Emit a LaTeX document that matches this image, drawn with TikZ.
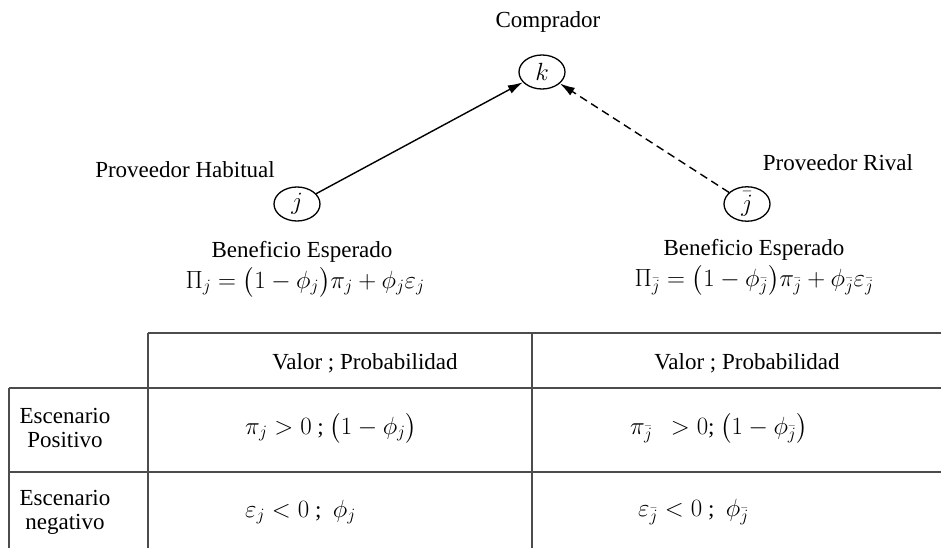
\documentclass[tikz,border=0pt]{standalone}
\usepackage{amsmath}
\usepackage{fontspec}
\setmainfont{Liberation Serif}
\usetikzlibrary{arrows.meta, positioning, shapes.geometric}

\begin{document}
\begin{tikzpicture}[x=1pt, y=-1pt, font=\fontsize{23}{24}\selectfont,
	agente/.style={draw, ellipse, line width=1.3pt, minimum width=46pt, minimum height=34pt, inner sep=0pt},
	flecha/.style={line width=1.4pt, -{Latex[length=15pt, width=9pt]}},
	linea/.style={line width=1.3pt, draw=black!70},
	celda/.style={align=center, inner sep=0pt}]
	\useasboundingbox (0,0) rectangle (941,548);
	% agentes
	\node[agente] (k) at (542,72) {$k$};
	\node[agente] (jh) at (297,204) {$j$};
	\node[agente] (jr) at (747,204) {$\bar{j}$};
	\node (comprador) at (548,22) {Comprador};
	\node (habitual) at (185,170) {Proveedor Habitual};
	\node (rival) at (838,163) {Proveedor Rival};
	\draw[flecha] (jh) -- (k);
	\draw[flecha, dash pattern=on 8pt off 5pt] (jr) -- (k);
	% beneficio esperado
	\node (benh) at (302,252) {Beneficio Esperado};
	\node (pih) at (305,282) {$\Pi_j=\bigl(1-\phi_j\bigr)\pi_j+\phi_j\varepsilon_j$};
	\node (benr) at (754,250) {Beneficio Esperado};
	\node (pir) at (754,280) {$\Pi_{\bar{j}}=\bigl(1-\phi_{\bar{j}}\bigr)\pi_{\bar{j}}+\phi_{\bar{j}}\varepsilon_{\bar{j}}$};
	% tabla
	\draw[linea] (148,333) -- (941,333);
	\draw[linea] (9,388) -- (941,388);
	\draw[linea] (9,472) -- (941,472);
	\draw[linea] (9,388) -- (9,548);
	\draw[linea] (148,333) -- (148,548);
	\draw[linea] (532,333) -- (532,548);
	\node[celda] (cabh) at (365,363) {Valor ; Probabilidad};
	\node[celda] (cabr) at (747,363) {Valor ; Probabilidad};
	\node[celda] (pos) at (65,428) {Escenario\\ Positivo};
	\node[celda] (neg) at (65,512) {Escenario\\ negativo};
	\node[celda, anchor=west] (posh) at (245,428) {$\pi_j>0$ ; $\bigl(1-\phi_j\bigr)$};
	\node[celda, anchor=west] (posr) at (630,428) {$\pi_{\bar{j}}\ \ >0$; $\bigl(1-\phi_{\bar{j}}\bigr)$};
	\node[celda, anchor=west] (negh) at (245,512) {$\varepsilon_j<0$ ;\ \ $\phi_j$};
	\node[celda, anchor=west] (negr) at (638,512) {$\varepsilon_{\bar{j}}<0$ ;\ \ $\phi_{\bar{j}}$};
\end{tikzpicture}
\end{document}
